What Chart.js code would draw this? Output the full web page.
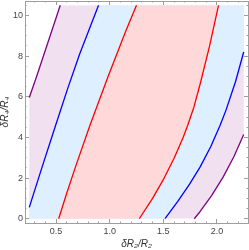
<!DOCTYPE html>
<html>
<head>
<meta charset="utf-8">
<script src="https://cdn.jsdelivr.net/npm/chart.js@4.4.1/dist/chart.umd.min.js"></script>
<style>
  body { margin: 0; background: #fff; }
</style>
</head>
<body>
<canvas id="grafik" width="249" height="250"></canvas>
<script>
// plot window (the shaded part), axes get 2% extra on each side
const xWindow = [0.25, 2.25];
const yWindow = [0, 10.5];
const xLimits = [0.21, 2.29];
const yLimits = [-0.21, 10.71];

// tick labels
const xMajor = [0.5, 1.0, 1.5, 2.0];
const yMajor = [0, 2, 4, 6, 8, 10];

// boundary curves (x at given y)
const purpleLeftX = [0.25, 0.315, 0.381, 0.46, 0.539];
const purpleLeftY = [5.96, 6.95, 7.99, 9.25, 10.5];

const blueLeftX = [0.25, 0.37, 0.496, 0.608, 0.72, 0.896];
const blueLeftY = [0.56, 2.55, 4.6, 6.4, 8.1, 10.5];

const redLeftX = [0.524, 0.602, 0.684, 0.816, 0.985, 1.152, 1.25];
const redLeftY = [0, 1.3, 2.6, 4.6, 7.0, 9.26, 10.5];

const redRightX = [1.276, 1.400, 1.508, 1.603, 1.685, 1.728, 1.786, 1.845, 1.932, 2.015];
const redRightY = [0, 1, 2, 3, 4, 4.6, 5.5, 6.65, 8.5, 10.5];

const blueRightX = [1.516, 1.635, 1.745, 1.844, 1.943, 2.03, 2.084, 2.174, 2.25];
const blueRightY = [0, 0.85, 1.7, 2.55, 3.55, 4.6, 5.33, 6.75, 8.2];

const purpleRightX = [1.789, 1.842, 1.952, 2.059, 2.158, 2.25];
const purpleRightY = [0, 0.345, 1.15, 2.06, 3.05, 4.14];

const renkler = {
  purple: { line: '#800080', fill: '#f0e0f0' },
  blue:   { line: '#0000ff', fill: '#def0ff' },
  red:    { line: '#ff0000', fill: '#ffd9d9' }
};
const frame = '#9e9e9e';

function pts(xs, ys) {
  return xs.map((x, i) => ({ x: x, y: ys[i] }));
}

// left boundaries start at the lower left corner, right ones end at the upper right corner
const bottomLeft = { x: xWindow[0], y: yWindow[0] };
const topRight = { x: xWindow[1], y: yWindow[1] };

function region(from, to, color, order, idx) {
  return [
    { data: from, fill: idx + 1, backgroundColor: color, borderWidth: 0, borderColor: 'transparent', order: order },
    { data: to, fill: false, borderWidth: 0, borderColor: 'transparent', order: order }
  ];
}

function stroke(xs, ys, color) {
  return { data: pts(xs, ys), fill: false, borderColor: color, borderWidth: 1.3, order: 0 };
}

const datasets = [].concat(
  region([bottomLeft].concat(pts(purpleLeftX, purpleLeftY)), pts(purpleRightX, purpleRightY).concat([topRight]), renkler.purple.fill, 3, 0),
  region([bottomLeft].concat(pts(blueLeftX, blueLeftY)), pts(blueRightX, blueRightY).concat([topRight]), renkler.blue.fill, 2, 2),
  region(pts(redLeftX, redLeftY), pts(redRightX, redRightY), renkler.red.fill, 1, 4),
  [
    stroke(purpleLeftX, purpleLeftY, renkler.purple.line),
    stroke(blueLeftX, blueLeftY, renkler.blue.line),
    stroke(redLeftX, redLeftY, renkler.red.line),
    stroke(redRightX, redRightY, renkler.red.line),
    stroke(blueRightX, blueRightY, renkler.blue.line),
    stroke(purpleRightX, purpleRightY, renkler.purple.line)
  ]
);
datasets.forEach(d => {
  d.pointRadius = 0;
  d.tension = 0;
  d.borderJoinStyle = 'round';
  d.xAxisID = 'x';
  d.yAxisID = 'y';
});

function isMajor(v, majors) {
  return majors.some(m => Math.abs(m - v) < 1e-6);
}

function axis(position, step, majors, showLabels, size, title) {
  const horizontal = position === 'top' || position === 'bottom';
  const range = horizontal ? xLimits : yLimits;
  const borderFirst = position === 'bottom' || position === 'right';
  return {
    type: 'linear',
    position: position,
    min: range[0],
    max: range[1],
    afterFit: s => {
      if (horizontal) s.height = size; else s.width = size;
      s.paddingLeft = 0; s.paddingRight = 0; s.paddingTop = 0; s.paddingBottom = 0;
    },
    ticks: {
      stepSize: step,
      includeBounds: false,
      autoSkip: false,
      maxTicksLimit: 1000,
      maxRotation: 0,
      minRotation: 0,
      padding: horizontal ? 7 : 6,
      color: '#444',
      font: { family: 'Liberation Sans', size: 9 },
      callback: v => (showLabels && isMajor(v, majors)) ? (horizontal ? v.toFixed(1) : String(v)) : ''
    },
    grid: {
      drawOnChartArea: false,
      tickLength: -4,
      tickWidth: 1,
      tickColor: frame,
      // minor ticks are half length
      tickBorderDash: c => isMajor(c.tick.value, majors) ? [] : (borderFirst ? [2.5, 10] : [0, 2.5, 2, 10])
    },
    border: { display: true, color: frame, width: 1 },
    title: {
      display: !!title,
      text: title || '',
      color: '#333',
      font: { family: 'Liberation Sans', size: 10, style: 'italic', lineHeight: 1 },
      padding: { top: 0, bottom: 1 }
    }
  };
}

const ctx = document.getElementById('grafik').getContext('2d');
new Chart(ctx, {
  type: 'line',
  data: { datasets: datasets },
  options: {
    responsive: false,
    animation: false,
    indexAxis: 'y',
    events: [],
    layout: { padding: 0 },
    plugins: {
      legend: { display: false },
      tooltip: { enabled: false }
    },
    scales: {
      x: axis('bottom', 0.1, xMajor, true, 27, 'δR₂/R₂'),
      y: axis('left', 0.5, yMajor, true, 25, 'δR₄/R₄'),
      x2: axis('top', 0.1, xMajor, false, 1, null),
      y2: axis('right', 0.5, yMajor, false, 1, null)
    }
  }
});
</script>
</body>
</html>
